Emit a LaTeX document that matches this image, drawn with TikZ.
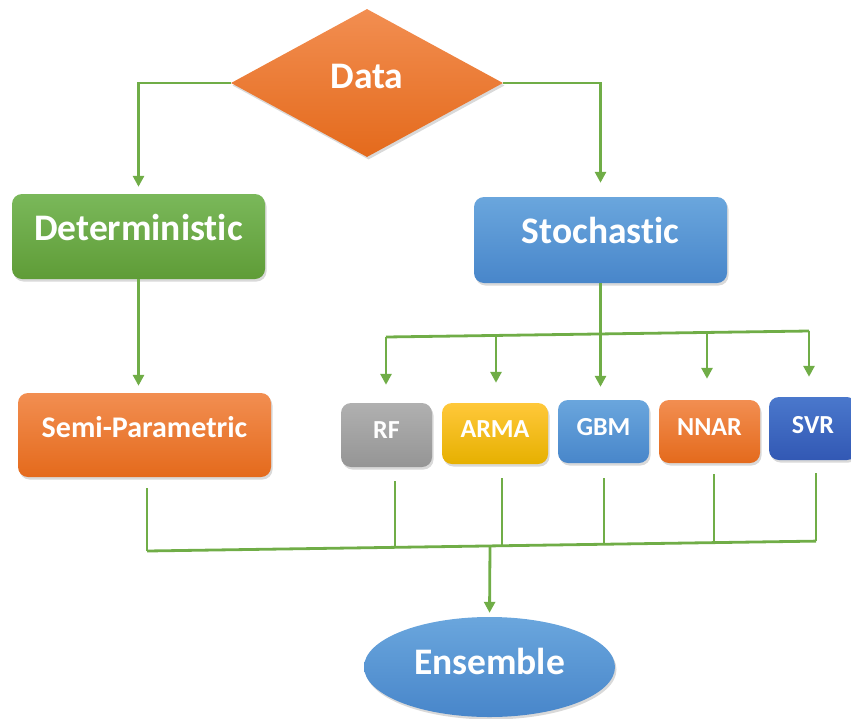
\documentclass[tikz,border=0pt]{standalone}
\usepackage{fontspec}
\setmainfont[Ligatures=NoCommon]{Carlito}
\usetikzlibrary{shapes.geometric,arrows.meta,shadows}
\definecolor{lgreen}{HTML}{70AD47}
\definecolor{grT}{HTML}{7AB85A}\definecolor{grB}{HTML}{5F9C37}
\definecolor{orT}{HTML}{F28E51}\definecolor{orB}{HTML}{E46A1C}
\definecolor{blT}{HTML}{6AA6DD}\definecolor{blB}{HTML}{4886CA}
\definecolor{gyT}{HTML}{B0B0B0}\definecolor{gyB}{HTML}{959595}
\definecolor{ylT}{HTML}{FFC83A}\definecolor{ylB}{HTML}{E6B000}
\definecolor{nvT}{HTML}{4A78CC}\definecolor{nvB}{HTML}{3258B4}
\tikzset{
  conn/.style={draw=lgreen, line width=2.8pt},
  arr/.style={conn, -{Triangle[width=11pt,length=11pt]}},
  shade/.style={drop shadow={opacity=0.3, shadow xshift=1.5pt, shadow yshift=-2.5pt}},
  box/.style={rectangle, rounded corners=10pt, inner sep=0pt, text=white, font=\bfseries, shade},
  greenbox/.style={box, top color=grT, bottom color=grB},
  orangebox/.style={box, top color=orT, bottom color=orB},
  bluebox/.style={box, top color=blT, bottom color=blB},
  graybox/.style={box, top color=gyT, bottom color=gyB},
  yellowbox/.style={box, top color=ylT, bottom color=ylB},
  navybox/.style={box, top color=nvT, bottom color=nvB},
  big/.style={font=\fontsize{37.5}{40}\selectfont\bfseries, text height=26pt, text depth=18pt},
  mid/.style={font=\fontsize{30}{32}\selectfont\bfseries, text height=22pt, text depth=17pt},
  small/.style={font=\fontsize{26}{30}\selectfont\bfseries, text height=20pt, text depth=13pt},
}
\begin{document}
\begin{tikzpicture}[x=1pt,y=-1pt]
\useasboundingbox (0,0) rectangle (851,718);
\clip (0,0) rectangle (851,718);
% nodes
\node[diamond, inner sep=0pt, minimum width=272pt, minimum height=148pt, top color=orT, bottom color=orB, text=white, shade, big, text depth=15pt] (data) at (367,83) {Data};
\node[greenbox, big, minimum width=253pt, minimum height=85pt] (det) at (138.5,236.5) {Deterministic};
\node[orangebox, mid, minimum width=253pt, minimum height=84pt] (semi) at (144.5,435) {Semi-Parametric};
\node[bluebox, big, minimum width=253pt, minimum height=86pt, text depth=19pt] (sto) at (600.5,240) {Stochastic};
\node[graybox, small, minimum width=91pt, minimum height=64pt] (rf) at (386.5,435) {RF};
\node[yellowbox, small, minimum width=106pt, minimum height=61pt] (arma) at (495,433.5) {ARMA};
\node[bluebox, small, minimum width=91pt, minimum height=63pt] (gbm) at (603.5,431.5) {GBM};
\node[orangebox, small, minimum width=101pt, minimum height=63pt] (nnar) at (709.5,431.5) {NNAR};
\node[navybox, small, minimum width=88pt, minimum height=63pt, text depth=10pt] (svr) at (813,428.5) {SVR};
\node[ellipse, inner sep=0pt, minimum width=251pt, minimum height=100pt, top color=blT, bottom color=blB, text=white, shade, big, text depth=11pt] (ens) at (489.5,667) {Ensemble};
% top connectors
\draw[arr, shorten >=7pt] (data.west) -| (det.north);
\draw[arr, shorten >=14pt] (data.east) -| (sto.north);
\draw[arr, shorten >=7pt] (det.south) -- (det.south |- semi.north);
% stochastic bus
\coordinate (b1) at (386,337);
\coordinate (b2) at (496,335.5);
\coordinate (b4) at (707,332.5);
\coordinate (b5) at (809,331);
\draw[conn] (b1) -- (b5);
\draw[arr, shorten >=13pt] (sto.south) -- (sto.south |- gbm.north);
\draw[arr, shorten >=18pt] (b1) -- (b1 |- rf.north);
\draw[arr, shorten >=20pt] (b2) -- (b2 |- arma.north);
\draw[arr, shorten >=21pt] (b4) -- (b4 |- nnar.north);
\draw[arr, shorten >=20pt] (b5) -- (b5 |- svr.north);
% bottom bus
\coordinate (c0) at (147,551);
\coordinate (c1) at (395,547.3);
\coordinate (c2) at (502,545.7);
\coordinate (c3) at (604,544.2);
\coordinate (c4) at (714,542.6);
\coordinate (c5) at (816,541.1);
\coordinate (ce) at (490,545.9);
\draw[conn] (c0) -- (c5);
\draw[conn, shorten >=11pt] (c0) -- (c0 |- semi.south);
\draw[conn, shorten >=14pt] (c1) -- (c1 |- rf.south);
\draw[conn, shorten >=14pt] (c2) -- (c2 |- arma.south);
\draw[conn, shorten >=15pt] (c3) -- (c3 |- gbm.south);
\draw[conn, shorten >=11pt] (c4) -- (c4 |- nnar.south);
\draw[conn, shorten >=13pt] (c5) -- (c5 |- svr.south);
\draw[arr, shorten >=4pt] (ce) -- (ens.north);
\end{tikzpicture}
\end{document}
